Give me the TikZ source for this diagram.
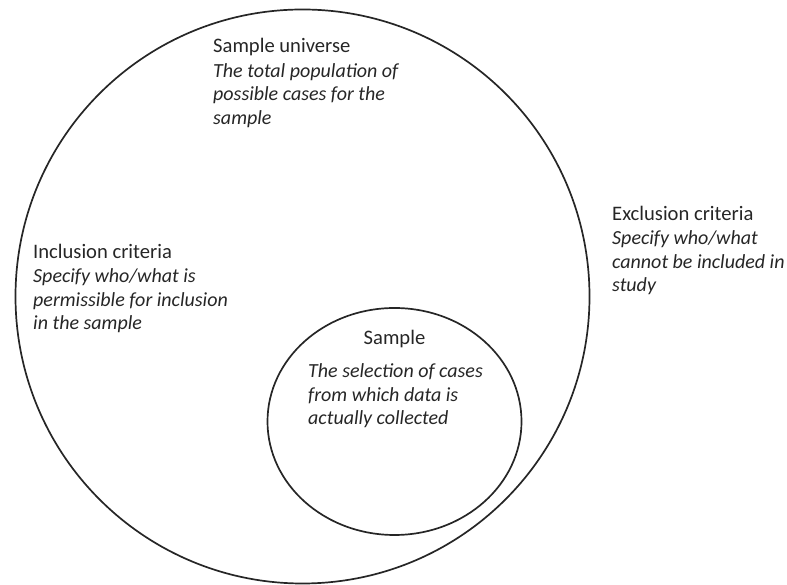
\documentclass[tikz,border=0pt]{standalone}
\usepackage{fontspec}
\setmainfont{Carlito}
\usetikzlibrary{positioning}
\tikzset{
  ring/.style={line width=1.7pt, draw=black!85},
  head/.style={inner sep=0pt, text=black!85, font=\fontsize{20.6}{23.5}\selectfont},
  desc/.style={inner sep=0pt, text=black!85, align=left, font=\fontsize{20}{23.5}\selectfont\itshape}
}

\begin{document}
\begin{tikzpicture}[x=1pt,y=1pt]
 		\useasboundingbox (0,0) rectangle (787,585);
 		\draw [ring] (302.5,288.5) circle (287);
 		\draw [ring] (394.5,163.5) ellipse (127 and 113.5);
 		% sample universe (base = last line of a 3 line node)
 		\node [head, anchor=base west] (v1) at (213,532) {Sample universe};
 		\node [desc, below=71.5pt of v1.base west, anchor=base west] (v2) {The total population of\\possible cases for the\\sample};
 		% inclusion
 		\node [head, anchor=base west] (v3) at (33,326) {Inclusion criteria};
 		\node [desc, below=71pt of v3.base west, anchor=base west] (v4) {Specify who/what is\\permissible for inclusion\\in the sample};
 		% exclusion
 		\node [head, anchor=base west] (v5) at (612,364) {Exclusion criteria};
 		\node [desc, below=71pt of v5.base west, anchor=base west] (v6) {Specify who/what\\cannot be included in\\study};
 		% sample
 		\node [head, anchor=base] (v7) at (394.5,240) {Sample};
 		\node [desc, below=80pt of v7.base, anchor=base west, xshift=-86.5pt] (v8) {The selection of cases\\from which data is\\actually collected};
\end{tikzpicture}
\end{document}
